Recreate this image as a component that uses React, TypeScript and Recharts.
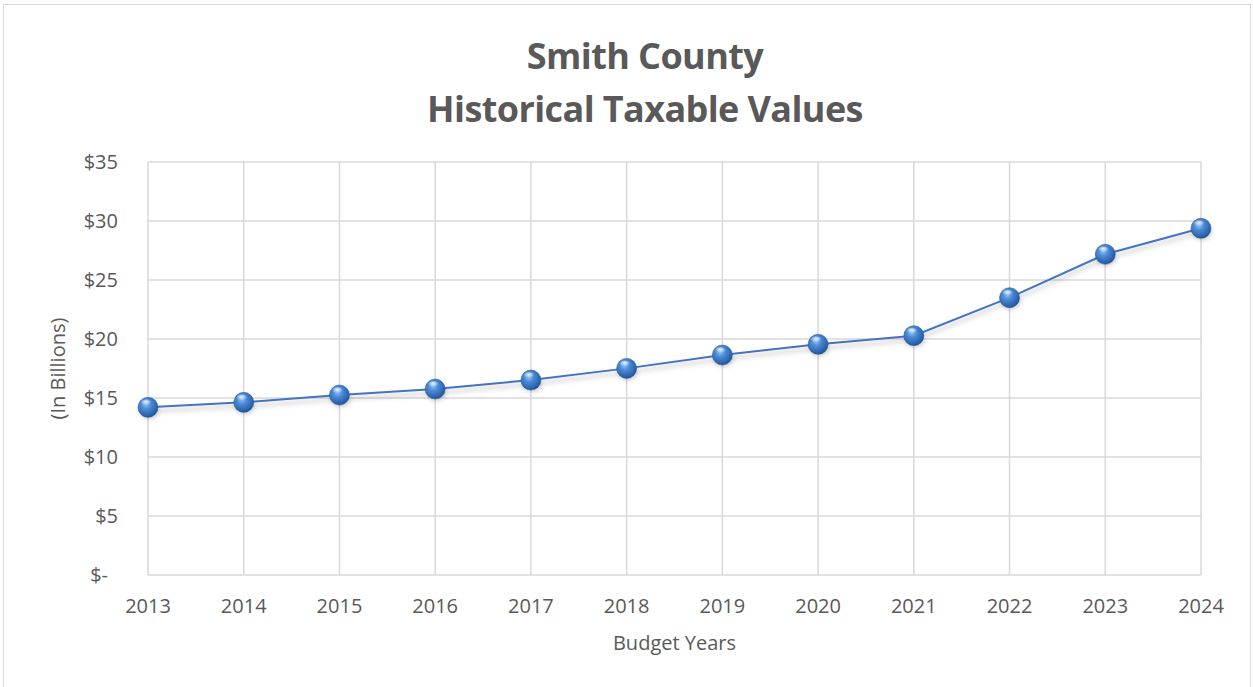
import React from 'react';
import { LineChart, Line, XAxis, YAxis, CartesianGrid } from 'recharts';

const years = ['2013', '2014', '2015', '2016', '2017', '2018', '2019', '2020', '2021', '2022', '2023', '2024'];
const taxableValues = [14.21, 14.63, 15.25, 15.76, 16.52, 17.51, 18.64, 19.55, 20.28, 23.5, 27.18, 29.38];
const yTicks = [0, 5, 10, 15, 20, 25, 30, 35];

const data = years.map((year, i) => ({ year, value: taxableValues[i] }));

const FONT = '"Open Sans", "Noto Sans", sans-serif';
const GREY = '#595959';

const SphereDot = (props: any) => {
    const { cx, cy, index } = props;
    if (cx == null || cy == null) return null;
    return (
        <g key={`dot-${index}`}>
            <ellipse cx={cx + 1} cy={cy + 4} rx={10} ry={8} fill="rgba(0,0,0,0.18)" filter="url(#blur)" />
            <circle cx={cx} cy={cy} r={10} fill="url(#sphere)" stroke="#2e5f9e" strokeWidth={0.6} />
            <ellipse cx={cx - 2} cy={cy - 5} rx={5} ry={3} fill="url(#gloss)" />
        </g>
    );
};

const YTick = (props: any) => {
    const { x, y, payload } = props;
    const v = payload.value;
    const label = v === 0 ? '$-' : `$${v}`;
    return (
        <text x={v === 0 ? x - 10 : x} y={y} dy={7} textAnchor="end" fill={GREY} fontSize={20} fontFamily={FONT}>
            {label}
        </text>
    );
};

const App: React.FC = () => {
    return (
        <div style={{ position: 'absolute', left: 0, top: 0, width: 1253, height: 687, background: '#fff', overflow: 'hidden' }}>
            <div
                style={{
                    position: 'absolute',
                    left: 3,
                    top: 4,
                    width: 1246,
                    height: 720,
                    border: '1px solid #d9d9d9',
                }}
            />
            <div
                style={{
                    position: 'absolute',
                    left: 0,
                    width: 1290,
                    top: 29,
                    textAlign: 'center',
                    fontFamily: FONT,
                    fontWeight: 700,
                    fontSize: 36,
                    lineHeight: '53px',
                    color: GREY,
                    letterSpacing: -0.6,
                }}
            >
                <div>Smith County</div>
                <div>Historical Taxable Values</div>
            </div>
            <LineChart
                width={1253}
                height={687}
                data={data}
                margin={{ top: 162, right: 52, bottom: 0, left: 0 }}
                style={{ position: 'absolute', left: 0, top: 0 }}
            >
                <defs>
                    <radialGradient id="sphere" cx="40%" cy="35%" r="70%">
                        <stop offset="0%" stopColor="#8fc0f5" />
                        <stop offset="35%" stopColor="#4b8ad6" />
                        <stop offset="80%" stopColor="#2b63ad" />
                        <stop offset="100%" stopColor="#1d4a86" />
                    </radialGradient>
                    <radialGradient id="gloss" cx="50%" cy="40%" r="60%">
                        <stop offset="0%" stopColor="#ffffff" stopOpacity={0.85} />
                        <stop offset="100%" stopColor="#ffffff" stopOpacity={0} />
                    </radialGradient>
                    <filter id="blur" x="-50%" y="-50%" width="200%" height="200%">
                        <feGaussianBlur stdDeviation={2} />
                    </filter>
                    <filter id="lineShadow" x="-5%" y="-20%" width="110%" height="160%">
                        <feDropShadow dx={0} dy={4} stdDeviation={2.5} floodColor="#000" floodOpacity={0.25} />
                    </filter>
                </defs>
                <CartesianGrid stroke="#d9d9d9" strokeWidth={1.5} />
                <XAxis
                    dataKey="year"
                    height={112}
                    axisLine={false}
                    tickLine={false}
                    tickSize={0}
                    tickMargin={24}
                    interval={0}
                    tick={{ fill: GREY, fontSize: 20, fontFamily: FONT }}
                    label={({ viewBox }: any) => (
                        <text
                            x={viewBox.x + viewBox.width / 2}
                            y={viewBox.y + 75}
                            textAnchor="middle"
                            fill={GREY}
                            fontSize={20}
                            fontFamily={FONT}
                        >
                            Budget Years
                        </text>
                    )}
                />
                <YAxis
                    width={148}
                    domain={[0, 35]}
                    ticks={yTicks}
                    axisLine={false}
                    tickLine={false}
                    tickSize={0}
                    tickMargin={30}
                    tick={<YTick />}
                    label={({ viewBox }: any) => {
                        const lx = 65;
                        const ly = viewBox.y + viewBox.height / 2;
                        return (
                            <text
                                x={lx}
                                y={ly}
                                transform={`rotate(-90 ${lx} ${ly})`}
                                textAnchor="middle"
                                fill={GREY}
                                fontSize={20}
                                fontFamily={FONT}
                            >
                                (In Billions)
                            </text>
                        );
                    }}
                />
                <Line
                    type="linear"
                    dataKey="value"
                    stroke="#4472c4"
                    strokeWidth={2}
                    filter="url(#lineShadow)"
                    dot={SphereDot}
                    activeDot={false}
                    isAnimationActive={false}
                />
            </LineChart>
        </div>
    );
};

export default App;
